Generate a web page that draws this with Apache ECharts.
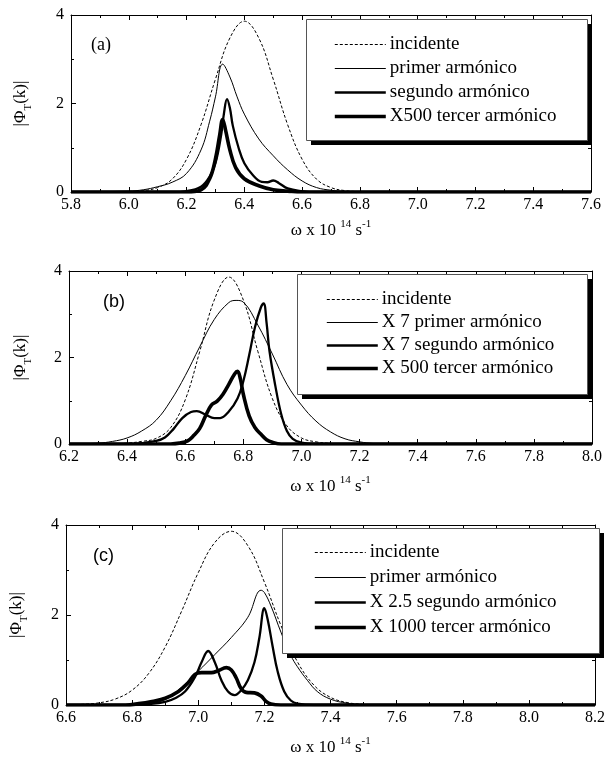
<!DOCTYPE html>
<html>
<head>
<meta charset="utf-8">
<script src="https://cdn.jsdelivr.net/npm/echarts@6/dist/echarts.min.js"></script>
<style>html,body{margin:0;padding:0;background:#fff;}#chart{width:608px;height:766px;}</style>
</head>
<body>
<div id="chart"></div>
<script>
// ---------- Panel (a) ----------
var aIncX = [5.8,5.95,6.0,6.05,6.1,6.15,6.2,6.25,6.3,6.35,6.4,6.45,6.5,6.55,6.6,6.65,6.7,6.75,6.8,6.85,7.6];
var aIncY = [0,0.002,0.008,0.03,0.1,0.29,0.74,1.52,2.55,3.48,3.86,3.48,2.55,1.52,0.74,0.29,0.1,0.03,0.008,0.002,0];
var aPriX = [5.8,6.0,6.05,6.1,6.15,6.2,6.25,6.28,6.3,6.325,6.35,6.375,6.4,6.45,6.5,6.55,6.6,6.65,6.7,6.75,6.8,7.6];
var aPriY = [0,0.02,0.05,0.12,0.22,0.42,0.95,1.6,2.15,2.89,2.6,2.15,1.76,1.2,0.82,0.5,0.25,0.1,0.04,0.01,0,0];
var aSegX = [5.8,6.15,6.2,6.25,6.28,6.3,6.32,6.33,6.34,6.35,6.36,6.38,6.4,6.43,6.46,6.48,6.5,6.52,6.55,6.6,6.65,7.6];
var aSegY = [0,0,0.02,0.12,0.35,0.65,1.3,1.8,2.1,1.9,1.5,1.0,0.65,0.38,0.23,0.22,0.26,0.2,0.08,0.02,0,0];
var aTerX = [5.8,6.2,6.25,6.28,6.3,6.315,6.325,6.335,6.35,6.37,6.4,6.45,6.5,6.55,6.6,7.6];
var aTerY = [0,0,0.05,0.3,0.75,1.3,1.64,1.4,0.95,0.55,0.3,0.14,0.05,0.02,0,0];
var aNames = ['incidente','primer armónico','segundo armónico','X500 tercer armónico'];

// ---------- Panel (b) ----------
var bIncX = [6.2,6.35,6.4,6.45,6.5,6.55,6.6,6.65,6.7,6.75,6.8,6.85,6.9,6.95,7.0,7.05,7.1,7.15,8.0];
var bIncY = [0,0.005,0.02,0.06,0.13,0.38,1.02,2.14,3.33,3.86,3.33,2.14,1.05,0.42,0.14,0.05,0.015,0,0];
var bPriX = [6.2,6.3,6.35,6.4,6.45,6.5,6.55,6.6,6.65,6.7,6.75,6.775,6.8,6.85,6.9,6.95,7.0,7.05,7.1,7.15,7.2,7.25,7.3,8.0];
var bPriY = [0,0.02,0.06,0.14,0.3,0.55,1.0,1.58,2.25,2.88,3.27,3.32,3.28,2.75,2.08,1.38,0.9,0.53,0.28,0.12,0.05,0.01,0,0];
var bSegX = [6.2,6.4,6.45,6.5,6.53,6.56,6.59,6.62,6.64,6.67,6.7,6.72,6.75,6.78,6.8,6.82,6.84,6.86,6.87,6.88,6.89,6.91,6.93,6.95,6.97,7.0,7.05,8.0];
var bSegY = [0,0,0.02,0.07,0.15,0.35,0.6,0.74,0.76,0.68,0.6,0.6,0.75,1.05,1.45,2.05,2.7,3.15,3.25,2.8,2.15,1.35,0.7,0.3,0.12,0.03,0,0];
var bTerX = [6.2,6.55,6.58,6.61,6.63,6.65,6.67,6.69,6.71,6.73,6.75,6.77,6.78,6.79,6.8,6.82,6.84,6.86,6.88,6.9,6.93,8.0];
var bTerY = [0,0,0.02,0.08,0.2,0.36,0.65,0.9,0.99,1.15,1.38,1.62,1.68,1.5,1.15,0.65,0.38,0.23,0.1,0.04,0,0];
var bNames = ['incidente','X 7 primer armónico','X 7 segundo armónico','X 500 tercer armónico'];

// ---------- Panel (c) ----------
var cIncX = [6.6,6.65,6.7,6.75,6.8,6.85,6.9,6.95,7.0,7.05,7.1,7.15,7.2,7.25,7.3,7.35,7.4,7.45,7.5,7.55,8.2];
var cIncY = [0,0.015,0.048,0.135,0.33,0.7,1.29,2.09,2.94,3.61,3.86,3.54,2.73,1.77,0.96,0.44,0.17,0.055,0.015,0,0];
var cPriX = [6.6,6.8,6.85,6.9,6.95,7.0,7.05,7.1,7.15,7.19,7.2,7.22,7.25,7.28,7.3,7.33,7.36,7.4,7.45,7.5,7.55,8.2];
var cPriY = [0,0.01,0.04,0.12,0.4,0.75,1.12,1.5,1.95,2.55,2.5,2.2,1.62,1.1,0.85,0.55,0.3,0.13,0.04,0.01,0,0];
var cSegX = [6.6,6.8,6.85,6.9,6.93,6.96,6.99,7.01,7.03,7.05,7.07,7.09,7.11,7.13,7.15,7.17,7.185,7.2,7.21,7.225,7.24,7.26,7.28,7.3,7.35,8.2];
var cSegY = [0,0,0.02,0.07,0.15,0.3,0.62,0.95,1.2,0.95,0.55,0.3,0.22,0.33,0.55,0.95,1.5,2.15,1.9,1.3,0.75,0.3,0.1,0.03,0,0];
var cTerX = [6.6,6.78,6.82,6.86,6.9,6.94,6.97,6.99,7.01,7.04,7.06,7.085,7.1,7.115,7.13,7.145,7.17,7.19,7.205,7.22,7.25,8.2];
var cTerY = [0,0,0.03,0.08,0.15,0.3,0.5,0.68,0.72,0.72,0.76,0.83,0.78,0.6,0.36,0.28,0.27,0.2,0.08,0.02,0,0];
var cNames = ['incidente','primer armónico','X 2.5 segundo armónico','X 1000 tercer armónico'];

var xRanges = [[5.8,7.6],[6.2,8.0],[6.6,8.2]];
var yTicks = [0,2,4];
var panelLabels = ['(a)','(b)','(c)'];

// ---------- build ----------
var SERIF = "'Liberation Serif','Times New Roman',serif";
var SANS = "'Liberation Sans',Arial,sans-serif";
function zip(xs, ys){ return xs.map(function(x,i){ return [x, ys[i]]; }); }

var panels = [
  {xs:[aIncX,aPriX,aSegX,aTerX], ys:[aIncY,aPriY,aSegY,aTerY], names:aNames},
  {xs:[bIncX,bPriX,bSegX,bTerX], ys:[bIncY,bPriY,bSegY,bTerY], names:bNames},
  {xs:[cIncX,cPriX,cSegX,cTerX], ys:[cIncY,cPriY,cSegY,cTerY], names:cNames}
];
var grids = [
  {left:71, top:15, width:520, height:177},
  {left:69, top:271, width:523, height:173},
  {left:65, top:525, width:535, height:180}
];
var xNameGap = [27, 31, 31];
var yNameGap = [37, 35, 36];
// legend text block (line sample start / first row top) and its frame box
var legendPos = [
  {left:333, top:35, itemGap:5},
  {left:325, top:290, itemGap:4},
  {left:313, top:543, itemGap:6}
];
var legendBox = [
  {x:306, y:19, w:281, h:121},
  {x:297, y:274, w:290, h:120},
  {x:282, y:528, w:317, h:125}
];
var lineStyles = [
  {width:1, type:[3,2]},
  {width:1, type:'solid'},
  {width:2.3, type:'solid'},
  {width:3.6, type:'solid'}
];
var labelPos = [
  {x:91, y:46, font:SERIF},
  {x:103, y:303, font:SANS},
  {x:93, y:557, font:SANS}
];

var xAxes = [], yAxes = [], series = [], legends = [], graphics = [];
var axisCol = '#000';
panels.forEach(function(p, i){
  var rng = xRanges[i];
  var common = {
    type:'value', gridIndex:i, min:rng[0], max:rng[1], interval:0.2,
    axisLine:{show:true, onZero:false, lineStyle:{color:axisCol, width:1}},
    axisTick:{show:true, inside:true, length:5, lineStyle:{color:axisCol}},
    minorTick:{show:true, splitNumber:2, length:3, lineStyle:{color:axisCol}},
    splitLine:{show:false}
  };
  xAxes.push(Object.assign({}, common, {
    position:'bottom',
    axisLabel:{show:true, margin:5, color:'#000', fontFamily:SERIF, fontSize:16,
      formatter:function(v){ return v.toFixed(1); }},
    name:'{a|ω x 10 }{s|14}{a| s}{s|-1}',
    nameLocation:'middle', nameGap:xNameGap[i],
    nameTextStyle:{color:'#000', fontFamily:SERIF, fontSize:17,
      rich:{a:{fontFamily:SERIF, fontSize:17, color:'#000', verticalAlign:'bottom', lineHeight:20},
            s:{fontFamily:SERIF, fontSize:11, color:'#000', verticalAlign:'top', lineHeight:20}}}
  }));
  xAxes.push(Object.assign({}, common, {position:'top', axisLabel:{show:false}}));
  var ycommon = {
    type:'value', gridIndex:i, min:yTicks[0], max:yTicks[yTicks.length-1], interval:2,
    axisLine:{show:true, onZero:false, lineStyle:{color:axisCol, width:1}},
    axisTick:{show:true, inside:true, length:5, lineStyle:{color:axisCol}},
    minorTick:{show:true, splitNumber:2, length:3, lineStyle:{color:axisCol}},
    splitLine:{show:false}
  };
  yAxes.push(Object.assign({}, ycommon, {
    position:'left',
    axisLabel:{show:true, margin:7, color:'#000', fontFamily:SERIF, fontSize:16},
    name:'{a||Φ}{t|T}{a|(k)|}',
    nameLocation:'middle', nameGap:yNameGap[i],
    nameTextStyle:{color:'#000', fontFamily:SERIF, fontSize:17,
      rich:{a:{fontFamily:SERIF, fontSize:17, color:'#000', verticalAlign:'top', lineHeight:22},
            t:{fontFamily:SERIF, fontSize:11, color:'#000', verticalAlign:'bottom', lineHeight:22}}}
  }));
  yAxes.push(Object.assign({}, ycommon, {position:'right', axisLabel:{show:false}}));

  for (var k = 0; k < 4; k++) {
    series.push({
      type:'line', name:p.names[k], xAxisIndex:2*i, yAxisIndex:2*i,
      data:zip(p.xs[k], p.ys[k]), symbol:'none', showSymbol:false,
      smooth:0.4,
      lineStyle:{color:'#000', width:lineStyles[k].width, type:lineStyles[k].type},
      itemStyle:{color:'#000'}, z:2+k
    });
  }
  var lp = legendPos[i];
  legends.push({
    data:p.names, orient:'vertical', left:lp.left, top:lp.top, padding:0,
    itemGap:lp.itemGap, itemWidth:51, itemHeight:2, selectedMode:false, z:12,
    itemStyle:{opacity:0},
    lineStyle:{width:'inherit', type:'inherit', color:'inherit'},
    textStyle:{fontFamily:SERIF, fontSize:19, color:'#000', lineHeight:19, padding:[0,0,0,-1]},
    backgroundColor:'transparent', borderWidth:0
  });
  var b = legendBox[i];
  graphics.push({type:'rect', z:10, silent:true,
    shape:{x:b.x + 5, y:b.y + 5, width:b.w, height:b.h},
    style:{fill:'#000'}});
  graphics.push({type:'rect', z:11, silent:true,
    shape:{x:b.x + 0.5, y:b.y + 0.5, width:b.w, height:b.h},
    style:{fill:'#fff', stroke:'#555', lineWidth:1}});
  graphics.push({type:'text', left:labelPos[i].x, top:labelPos[i].y - 10, z:10,
    style:{text:panelLabels[i], font:'18px ' + labelPos[i].font, fill:'#000'}});
});

var chart = echarts.init(document.getElementById('chart'), null, {renderer:'canvas'});
chart.setOption({
  animation:false,
  backgroundColor:'#fff',
  grid:grids.map(function(g){ return Object.assign({containLabel:false}, g); }),
  xAxis:xAxes, yAxis:yAxes, series:series, legend:legends, graphic:graphics
});
</script>
</body>
</html>
